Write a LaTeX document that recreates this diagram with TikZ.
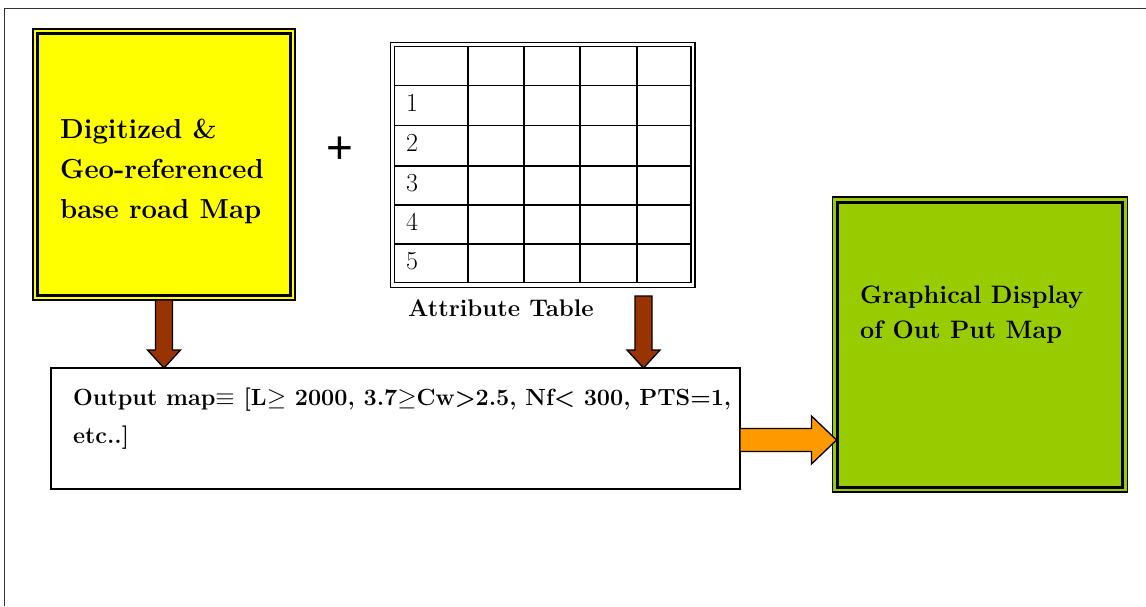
\documentclass[tikz,border=0pt]{standalone}
\usepackage{fontspec}
\newfontfamily\plusfont{Liberation Sans}
\usetikzlibrary{calc}
\definecolor{boxyellow}{HTML}{FFFF00}
\definecolor{boxgreen}{HTML}{99CC00}
\definecolor{arrowbrown}{HTML}{993300}
\definecolor{arroworange}{HTML}{FF9900}
\newcommand\fsz[2]{\fontsize{#1}{#2}\selectfont}
% downward block arrow: style, start, tip
\newcommand\blockdown[3]{%
  \draw[#1] let \p1=(#2), \p2=(#3) in
    (\x1-8.5pt,\y1) -- (\x1+8.5pt,\y1) -- (\x1+8.5pt,\y2+18pt) -- (\x1+16.5pt,\y2+18pt)
    -- (\x1,\y2) -- (\x1-16.5pt,\y2+18pt) -- (\x1-8.5pt,\y2+18pt) -- cycle;}
% rightward block arrow: style, start, tip
\newcommand\blockright[3]{%
  \draw[#1] let \p1=(#2), \p2=(#3) in
    (\x1,\y1+11.5pt) -- (\x2-25pt,\y1+11.5pt) -- (\x2-25pt,\y1+24pt) -- (\x2,\y1)
    -- (\x2-25pt,\y1-24pt) -- (\x2-25pt,\y1-11.5pt) -- (\x1,\y1-11.5pt) -- cycle;}
\begin{document}
\begin{tikzpicture}[x=1pt,y=-1pt,
  box/.style={draw=black, line width=1.5pt, inner sep=0pt, outer sep=0pt, anchor=north west},
  inner border/.style={draw=black, line width=#1},
  label/.style={anchor=base west, inner sep=0pt, align=left},
  brownarrow/.style={fill=arrowbrown, draw=black, line width=1.3pt, line join=miter},
  orangearrow/.style={fill=arroworange, draw=black, line width=1.3pt, line join=miter},
  grid line/.style={draw=black, line width=1.3pt}]
\useasboundingbox (0,0) rectangle (1146,606);

% page frame
\draw[line width=1.8pt, black!80] (4.5,606) -- (4.5,8.5) -- (1146,8.5);

% digitized base map (multi-line labels are anchored at their last baseline)
\node[box, fill=boxyellow, minimum width=262pt, minimum height=271pt] (ymap) at (33,29) {};
\draw[inner border=2.8pt] ([shift={(4.5,4.5)}]ymap.north west) rectangle ([shift={(-4.5,-4.5)}]ymap.south east);
\node[label, font=\fsz{27.5}{40}\bfseries] (ytext) at (60,218) {Digitized \&\\Geo-referenced\\base road Map};

% plus sign
\node[font=\plusfont\fsz{46}{46}, inner sep=0pt] (plus) at (340,150) {+};

% attribute table
\node[box, draw=black, line width=1.3pt, minimum width=304.5pt, minimum height=245pt] (tab) at (390.5,42.5) {};
\begin{scope}[shift={(tab.north west)}]
  \draw[line width=1.3pt] (4,4) rectangle (300.5,240);
  \foreach \cx in {77.5,133.5,189.5,246.5}
    \draw[grid line] (\cx,4) -- (\cx,240);
  \foreach \ry in {43,83,123.5,162.5,201.5}
    \draw[grid line] (4,\ry) -- (300.5,\ry);
\end{scope}
\node[label, font=\fsz{26}{26}] (r1) at (406,111.5) {1};
\node[label, font=\fsz{26}{26}] (r2) at (406,151) {2};
\node[label, font=\fsz{26}{26}] (r3) at (406,191) {3};
\node[label, font=\fsz{26}{26}] (r4) at (406,230) {4};
\node[label, font=\fsz{26}{26}] (r5) at (406,269.5) {5};
\node[label, font=\fsz{24}{24}\bfseries] (tabname) at (408,316) {Attribute Table};

% output definition
\node[box, fill=white, minimum width=689pt, minimum height=121pt] (out) at (51,368) {};
\node[label, font=\fsz{23.4}{38}\bfseries] (outtext) at (73,443)
  {Output map$\equiv$ [L$\geq$ 2000, 3.7$\geq$Cw>2.5, Nf< 300, PTS=1,\\etc..]};

% graphical display
\node[box, fill=boxgreen, minimum width=295pt, minimum height=295pt] (disp) at (832.5,197) {};
\draw[inner border=3pt] ([shift={(5,5)}]disp.north west) rectangle ([shift={(-5,-5)}]disp.south east);
\node[label, font=\fsz{25.2}{35.5}\bfseries] (disptext) at (860,338.5) {Graphical Display\\of Out Put Map};

% connectors
\coordinate (tabfoot) at (643.5,296);
\coordinate (outside) at ([yshift=-11.5pt]out.east);
\coordinate (dispin) at ([xshift=4pt]disp.west);
\blockdown{brownarrow}{ymap.south}{ymap.south |- out.north}
\blockdown{brownarrow}{tabfoot}{tabfoot |- out.north}
\blockright{orangearrow}{outside}{dispin |- outside}
\end{tikzpicture}
\end{document}
